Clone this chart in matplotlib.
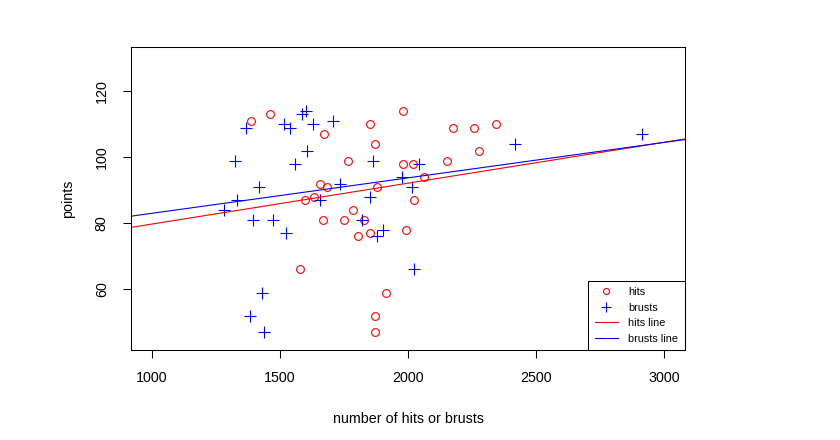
import numpy as np
import matplotlib
matplotlib.use("Agg")
import matplotlib.pyplot as plt
from matplotlib.lines import Line2D

plt.rcParams['font.family'] = ['Liberation Sans', 'DejaVu Sans']

# values
hits_x = [1386, 1460, 1674, 1852, 1872, 1982, 1765, 1982, 1655, 1685, 1881,
          1600, 1633, 1787, 1668, 1750, 1830, 1807, 1850, 1993, 1579, 1915,
          1873, 1873, 2177, 2259, 2342, 2277, 2151, 2021, 2064, 2024]
hits_y = [111, 113, 107, 110, 104, 114, 99, 98, 92, 91, 91,
          87, 88, 84, 81, 81, 81, 76, 77, 78, 66, 59,
          52, 47, 109, 109, 110, 102, 99, 98, 94, 87]

brusts_x = [1369, 1518, 1538, 1586, 1603, 1629, 1709, 1605, 1327, 1561, 1865,
            1421, 1733, 1977, 1332, 1657, 1853, 1284, 1395, 1475, 1820, 1525,
            1902, 1878, 1430, 1385, 1439, 2024, 2911, 2417, 2041, 2014]
brusts_y = [109, 110, 109, 113, 114, 110, 111, 102, 99, 98, 99,
            91, 92, 94, 87, 87, 88, 84, 81, 81, 81, 77,
            78, 76, 59, 52, 47, 66, 107, 104, 98, 91]

x_ticks = [1000, 1500, 2000, 2500, 3000]
y_ticks = [60, 80, 100, 120]

red = '#ff0000'
blue = '#0000ff'
fs = 10.3

fig = plt.figure(figsize=(8.4, 4.4), dpi=100)
ax = fig.add_axes([131/840, 90/440, 554/840, 303/440])

ax.plot(hits_x, hits_y, 'o', mfc='none', mec=red, ms=5.6, mew=0.8)
ax.plot(brusts_x, brusts_y, '+', color=blue, ms=8, mew=0.8)

# least squares lines, like abline(lm(y ~ x))
b1, a1 = np.polyfit(hits_x, hits_y, 1)
b2, a2 = np.polyfit(brusts_x, brusts_y, 1)
ax.axline((0, a1), slope=b1, color=red, lw=0.8)
ax.axline((0, a2), slope=b2, color=blue, lw=0.8)

# R style 4% padding around xlim=c(1000,3000)
ax.set_xlim(1000 - 80, 3000 + 80)
ax.set_ylim(41.6, 133.4)
ax.set_xticks(x_ticks)
ax.set_yticks(y_ticks)
ax.tick_params(direction='out', length=5.5, width=0.75, labelsize=fs)
ax.tick_params(axis='x', pad=9.5)
ax.tick_params(axis='y', labelrotation=90, pad=10.5)
for lab in ax.get_yticklabels():
    lab.set_va('center')
for s in ax.spines.values():
    s.set_linewidth(0.75)

ax.set_xlabel('number of hits or brusts', fontsize=fs, labelpad=19.5)
ax.set_ylabel('points', fontsize=fs, labelpad=14)

handles = [
    Line2D([], [], ls='none', marker='o', mfc='none', mec=red, ms=4.3, mew=0.8),
    Line2D([], [], ls='none', marker='+', color=blue, ms=6.5, mew=0.8),
    Line2D([], [], color=red, lw=0.8),
    Line2D([], [], color=blue, lw=0.8),
]
leg = ax.legend(handles, ['hits', 'brusts', 'hits line', 'brusts line'],
                loc='lower right', borderaxespad=0, fancybox=False,
                edgecolor='black', framealpha=1, fontsize=7.8,
                handlelength=2.1, labelspacing=0.5, borderpad=0.6,
                handletextpad=1.0)
leg.get_frame().set_linewidth(0.75)

fig.savefig('out.png', dpi=100)
